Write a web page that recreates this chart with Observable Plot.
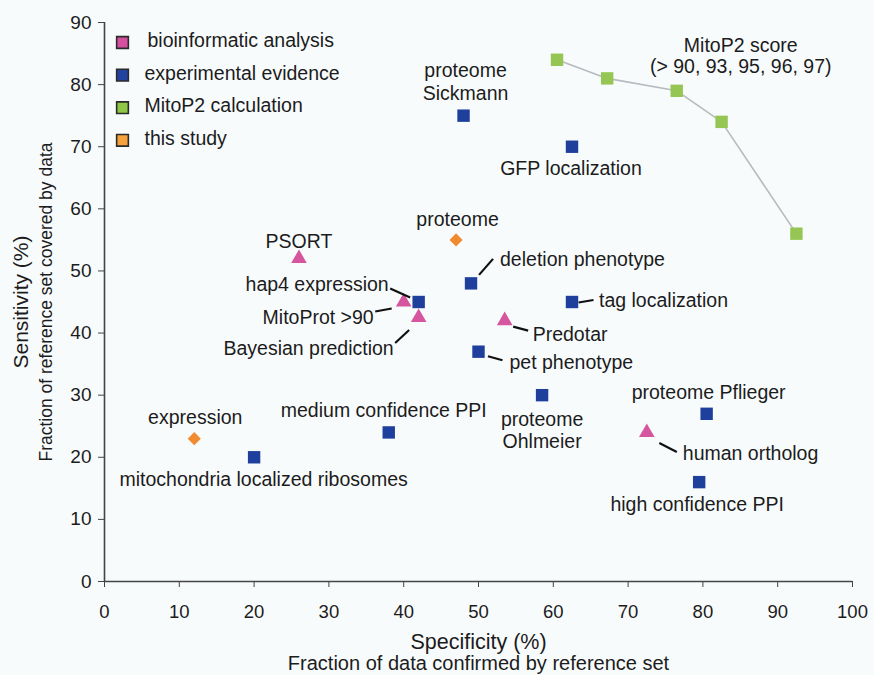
<!DOCTYPE html>
<html>
<head>
<meta charset="utf-8">
<script src="https://cdn.jsdelivr.net/npm/d3@7"></script>
<script src="https://cdn.jsdelivr.net/npm/@observablehq/plot@0.6"></script>
<style>
  html, body { margin: 0; padding: 0; background: #f8fbfc; }
  #chart svg { display: block; }
</style>
</head>
<body>
<div id="chart"></div>
<script>
// ---------------- data ----------------
const names = [
  "PSORT", "hap4 expression", "MitoProt >90", "Bayesian prediction",
  "proteome Sickmann", "GFP localization",
  "MitoP2 >90", "MitoP2 >93", "MitoP2 >95", "MitoP2 >96", "MitoP2 >97",
  "proteome (this study)", "deletion phenotype", "tag localization", "Predotar",
  "pet phenotype", "proteome Ohlmeier", "proteome Pflieger", "human ortholog",
  "high confidence PPI", "medium confidence PPI", "mitochondria localized ribosomes",
  "expression"
];
const groups = [
  "bioinformatic analysis", "experimental evidence", "bioinformatic analysis", "bioinformatic analysis",
  "experimental evidence", "experimental evidence",
  "MitoP2 calculation", "MitoP2 calculation", "MitoP2 calculation", "MitoP2 calculation", "MitoP2 calculation",
  "this study", "experimental evidence", "experimental evidence", "bioinformatic analysis",
  "experimental evidence", "experimental evidence", "experimental evidence", "bioinformatic analysis",
  "experimental evidence", "experimental evidence", "experimental evidence",
  "this study"
];
const specificity = [26, 42, 40, 42, 48, 62.5, 60.5, 67.2, 76.5, 82.5, 92.5, 47, 49, 62.5, 53.5, 50, 58.5, 80.5, 72.5, 79.5, 38, 20, 12];
const sensitivity = [52, 45, 45, 42.5, 75, 70, 84, 81, 79, 74, 56, 55, 48, 45, 42, 37, 30, 27, 24, 16, 24, 20, 23];
const labels = [
  "PSORT", "hap4 expression", "MitoProt >90", "Bayesian prediction",
  "proteome\nSickmann", "GFP localization",
  "", "", "MitoP2 score\n(> 90, 93, 95, 96, 97)", "", "",
  "proteome", "deletion phenotype", "tag localization", "Predotar",
  "pet phenotype", "proteome\nOhlmeier", "proteome Pflieger", "human ortholog",
  "high confidence PPI", "medium confidence PPI", "mitochondria localized ribosomes",
  "expression"
];
const groupNames = ["bioinformatic analysis", "experimental evidence", "MitoP2 calculation", "this study"];
const groupSymbols = ["triangle", "square", "square", "diamond2"];
const xTicks = [0, 10, 20, 30, 40, 50, 60, 70, 80, 90, 100];
const yTicks = [0, 10, 20, 30, 40, 50, 60, 70, 80, 90];

// ---------------- styles / layout ----------------
const groupColors = ["#d5569e", "#1e3f9c", "#95c653", "#f28a30"];
const legendColors = ["#d6509f", "#2143a0", "#8fc645", "#f5a23c"];
const symbolSize = {"triangle": 5.8, "square": 7, "diamond2": 5.9};
// label offsets in pixels from the point
const labelLayout = {
  "PSORT": {dx: 0, dy: -18, anchor: "middle"},
  "hap4 expression": {dx: -30, dy: -18, anchor: "end"},
  "MitoProt >90": {dx: -30, dy: 15, anchor: "end"},
  "Bayesian prediction": {dx: -25, dy: 30, anchor: "end"},
  "proteome Sickmann": {dx: 2, dy: -35, anchor: "middle", lh: 1.18},
  "GFP localization": {dx: -1, dy: 21, anchor: "middle"},
  "MitoP2 >95": {dx: 64, dy: -35, anchor: "middle", lh: 1.05},
  "proteome (this study)": {dx: 1.5, dy: -21.5, anchor: "middle"},
  "deletion phenotype": {dx: 29, dy: -25, anchor: "start"},
  "tag localization": {dx: 27, dy: -2.5, anchor: "start"},
  "Predotar": {dx: 28, dy: 13, anchor: "start"},
  "pet phenotype": {dx: 31, dy: 10, anchor: "start"},
  "proteome Ohlmeier": {dx: 0, dy: 34.5, anchor: "middle", lh: 1.15},
  "proteome Pflieger": {dx: 2, dy: -22, anchor: "middle"},
  "human ortholog": {dx: 36, dy: 20, anchor: "start"},
  "high confidence PPI": {dx: -2, dy: 21.5, anchor: "middle"},
  "medium confidence PPI": {dx: -5, dy: -23, anchor: "middle"},
  "mitochondria localized ribosomes": {dx: 9.5, dy: 22, anchor: "middle"},
  "expression": {dx: 1, dy: -22, anchor: "middle"}
};
// leader lines, pixel offsets from the point [x1, y1, x2, y2]
const leaders = {
  "hap4 expression": [-28, -13, -8, -4],
  "MitoProt >90": [-28, 10, -11.5, 7],
  "Bayesian prediction": [-23, 26, -9, 13],
  "deletion phenotype": [8.5, -8, 22.5, -24],
  "tag localization": [7, 1, 22, -1.5],
  "Predotar": [9, 6.5, 24, 10.5],
  "pet phenotype": [10, 5, 24.5, 9],
  "human ortholog": [13, 11, 30.5, 20]
};

const FONT = "'Liberation Sans', Arial, Helvetica, sans-serif";
const TEXT = "#1c1c1c";

const data = names.map((n, i) => ({
  name: n, group: groups[i], x: specificity[i], y: sensitivity[i], label: labels[i]
}));

const symbolOf = g => groupSymbols[groupNames.indexOf(g)];

const dotMarks = ["triangle", "square", "diamond2"].map(sym =>
  Plot.dot(data.filter(d => symbolOf(d.group) === sym), {
    x: "x", y: "y", symbol: () => sym, r: symbolSize[sym], fill: "group", stroke: "none"
  })
);

const labelMarks = data.filter(d => d.label).map(d => {
  const L = labelLayout[d.name];
  return Plot.text([d], {
    x: "x", y: "y", text: "label", dx: L.dx, dy: L.dy, textAnchor: L.anchor,
    lineAnchor: "middle", lineHeight: L.lh || 1.15, fontSize: 19.5, fill: TEXT
  });
});

const legendMarks = groupNames.flatMap((g, i) => [
  Plot.dot([g], {frameAnchor: "top-left", dx: 18, dy: 20 + i * 32.6, symbol: "square", r: 6.6,
    fill: legendColors[i], stroke: "#2a2a2a", strokeWidth: 1.6}),
  Plot.text([g], {frameAnchor: "top-left", dx: i === 0 ? 43 : 40, dy: 18.5 + i * 32.6, text: d => d,
    textAnchor: "start", lineAnchor: "middle", fontSize: 19.5, fill: TEXT})
]);

const chart = Plot.plot({
  width: 874,
  height: 675,
  marginTop: 22,
  marginBottom: 94,
  marginLeft: 104,
  marginRight: 22,
  style: {background: "#f8fbfc", fontFamily: FONT, color: TEXT},
  x: {domain: [0, 100], label: null},
  y: {domain: [0, 90], label: null},
  color: {domain: groupNames, range: groupColors},
  marks: [
    Plot.line(data.filter(d => d.group === "MitoP2 calculation"), {x: "x", y: "y", stroke: "#b7bbbf", strokeWidth: 1.6}),
    ...dotMarks,
    ...labelMarks,
    ...legendMarks,
    Plot.axisX({ticks: xTicks, tickSize: 6, tickPadding: 17, fontSize: 18.5, stroke: "#444", fill: TEXT, label: null, tickFormat: d => String(d)}),
    Plot.axisY({ticks: yTicks, tickSize: 6, tickPadding: 7, fontSize: 19, stroke: "#444", fill: TEXT, label: null, tickFormat: d => String(d)}),
    Plot.ruleX([0], {stroke: "#444", strokeWidth: 1.6}),
    Plot.ruleY([0], {stroke: "#444", strokeWidth: 1.6}),
    // axis titles
    Plot.text(["Sensitivity (%)"], {frameAnchor: "left", dx: -83, rotate: -90, fontSize: 21, fill: TEXT, textAnchor: "middle", lineAnchor: "middle"}),
    Plot.text(["Fraction of reference set covered by data"], {frameAnchor: "left", dx: -58, rotate: -90, fontSize: 17.5, fill: TEXT, textAnchor: "middle", lineAnchor: "middle"}),
    Plot.text(["Specificity (%)"], {frameAnchor: "bottom", dy: 67, fontSize: 21.5, fill: TEXT, textAnchor: "middle", lineAnchor: "bottom"}),
    Plot.text(["Fraction of data confirmed by reference set"], {frameAnchor: "bottom", dy: 88, fontSize: 20, fill: TEXT, textAnchor: "middle", lineAnchor: "bottom"})
  ]
});

// leader lines drawn through the chart's own scales
const sx = chart.scale("x"), sy = chart.scale("y");
const leaderData = data.filter(d => leaders[d.name]).map(d => {
  const [a, b, c, e] = leaders[d.name];
  const px = sx.apply(d.x), py = sy.apply(d.y);
  return {x1: px + a, y1: py + b, x2: px + c, y2: py + e};
});
d3.select(chart).append("g").attr("aria-label", "leaders")
  .selectAll("line").data(leaderData).join("line")
  .attr("x1", d => d.x1).attr("y1", d => d.y1)
  .attr("x2", d => d.x2).attr("y2", d => d.y2)
  .attr("stroke", "#111").attr("stroke-width", 2.2);

document.getElementById("chart").appendChild(chart);
</script>
</body>
</html>
